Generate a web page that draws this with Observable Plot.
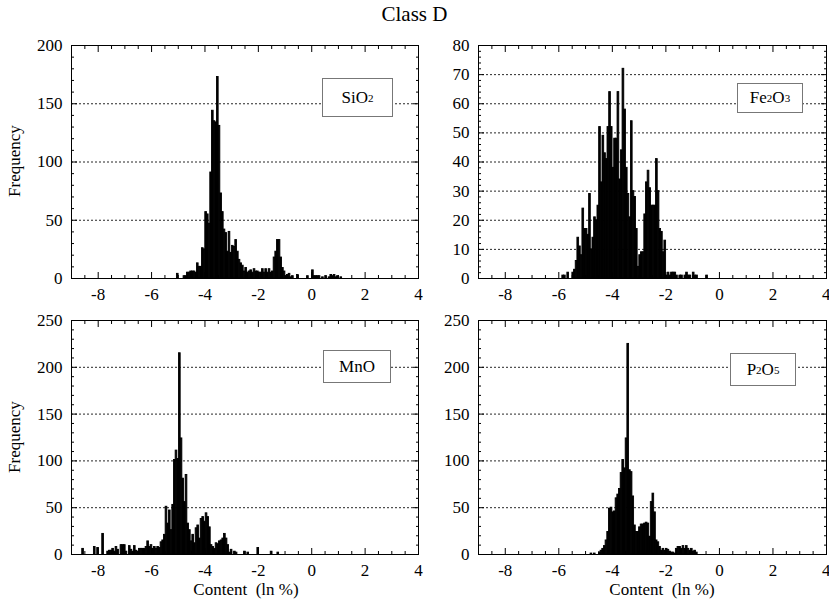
<!DOCTYPE html>
<html>
<head>
<meta charset="utf-8">
<script src="https://cdn.jsdelivr.net/npm/d3@7"></script>
<script src="https://cdn.jsdelivr.net/npm/@observablehq/plot@0.6"></script>
<style>
  html, body { margin: 0; padding: 0; background: #fff; }
  #chart { position: relative; width: 829px; height: 611px; font-family: "Liberation Serif", "Times New Roman", "DejaVu Serif", serif; color: #000; overflow: hidden; }
  #chart div, #chart svg, #chart svg text { font-family: "Liberation Serif", "Times New Roman", "DejaVu Serif", serif !important; }
  .abs { position: absolute; }
  .panel svg { overflow: visible; font-size: 17px !important; }
  .panel svg text { font-size: 17px !important; }
  .title { left: 0; width: 829px; top: 2px; text-align: center; font-size: 21px; }
  .ylab { font-size: 17px; transform: translate(-50%, -50%) rotate(-90deg); white-space: nowrap; }
  .xlab { font-size: 17px; transform: translate(-50%, -50%); white-space: pre; }
  .key { background: #fff; border: 1px solid #777; font-size: 17px; display: flex; align-items: center; justify-content: center; box-sizing: border-box; }
  .key sub { font-size: 11px; vertical-align: -4px; line-height: 0; }
</style>
</head>
<body>
<div id="chart"></div>
<script>
// ---------------- data (histogram counts, bin width in ln % units) ----------------
const binWidth = 0.0625;

const sio2Start = -5.05;
const sio2Counts = [4,0,0,0,2,2,5,5,6,6,6,5,13,10,10,26,25,57,55,47,91,144,135,134,173,131,73,57,42,39,23,40,22,28,27,33,23,16,13,11,6,9,5,6,7,5,8,6,6,5,5,8,5,8,5,8,5,6,18,23,33,33,18,9,6,2,3,4,1,2,0,0,3,0,0,0,0,0,2,0,0,7,2,2,2,2,0,1,0,2,0,1,3,2,3,1,2,0,1];

const fe2o3Start = -5.93;
const fe2o3Counts = [0,1,1,0,2,0,0,2,3,6,14,11,8,24,17,17,15,29,10,14,21,20,25,52,33,49,43,41,52,64,52,38,48,48,64,34,44,72,58,38,29,21,54,30,28,17,4,8,9,9,22,33,37,31,25,25,25,41,30,17,16,9,13,1,2,1,2,2,2,1,0,1,1,0,1,2,1,1,0,2,1,1,0,0,0,0,0,1];

const mnoStart = -8.66;
const mnoCounts = [0,6,0,0,0,0,0,0,8,0,7,0,0,22,0,0,3,4,4,6,3,8,5,0,10,10,10,3,0,9,5,3,9,4,3,6,6,6,6,8,14,8,10,6,8,6,8,7,13,15,21,51,33,47,26,53,101,111,102,215,124,81,56,85,33,26,14,21,12,28,31,17,38,40,35,44,40,29,10,8,6,12,11,14,15,17,22,17,10,2,5,0,3,2,0,0,0,0,3,0,2,0,0,0,0,0,7,0,0,0,0,0,0,0,3,0,0,0,2];

const p2o5Start = -4.813;
const p2o5Counts = [1,0,1,0,0,2,4,6,9,15,24,49,50,45,46,60,64,70,87,101,92,124,225,90,88,62,31,24,24,29,32,32,33,34,33,19,56,65,45,15,13,8,4,6,4,6,5,3,2,2,1,6,8,8,6,9,6,9,6,4,6,3,4,2];

const xDomain = [-9, 4];
const xMajorTicks = [-8, -6, -4, -2, 0, 2, 4];
const xMinorTicks = [-8.5, -7.5, -7, -6.5, -5.5, -5, -4.5, -3.5, -3, -2.5, -1.5, -1, -0.5, 0.5, 1, 1.5, 2.5, 3, 3.5];
const sio2YTicks = [0, 50, 100, 150, 200];
const fe2o3YTicks = [0, 10, 20, 30, 40, 50, 60, 70, 80];
const mnoYTicks = [0, 50, 100, 150, 200, 250];
const p2o5YTicks = [0, 50, 100, 150, 200, 250];

// ---------------- layout ----------------
const chart = document.getElementById("chart");
const fontFamily = '"Liberation Serif", "Times New Roman", "DejaVu Serif", serif';

const specs = [
  {start: sio2Start, counts: sio2Counts, yTicks: sio2YTicks, minorStep: 10, edge: false, left: 0, top: 25, width: 430, height: 290, mL: 71, mR: 12, mT: 20, mB: 37},
  {start: fe2o3Start, counts: fe2o3Counts, yTicks: fe2o3YTicks, minorStep: 2, edge: true, left: 420, top: 25, width: 409, height: 290, mL: 58, mR: 3, mT: 20, mB: 37},
  {start: mnoStart, counts: mnoCounts, yTicks: mnoYTicks, minorStep: 10, edge: false, left: 0, top: 300, width: 430, height: 290, mL: 71, mR: 12, mT: 20, mB: 36},
  {start: p2o5Start, counts: p2o5Counts, yTicks: p2o5YTicks, minorStep: 10, edge: true, left: 420, top: 300, width: 409, height: 290, mL: 58, mR: 3, mT: 20, mB: 36}
];

const blank = () => "";

function makePanel(s) {
  const bars = s.counts
    .map((n, i) => ({x1: s.start + i * binWidth, x2: s.start + (i + 1) * binWidth, n}))
    .filter(d => d.n > 0);
  const yMax = s.yTicks[s.yTicks.length - 1];
  const yMinor = d3.range(0, yMax + 1e-9, s.minorStep).filter(v => !s.yTicks.includes(v));
  const grid = s.yTicks.filter(v => v > 0 && v < yMax);
  const lastX = xMajorTicks[xMajorTicks.length - 1];
  const innerX = s.edge ? xMajorTicks.slice(0, -1) : xMajorTicks;
  const marks = [
    Plot.gridY(grid, {stroke: "#000", strokeOpacity: 0.85, strokeDasharray: "2,2", strokeWidth: 1}),
    Plot.rectY(bars, {x1: "x1", x2: "x2", y: "n", fill: "#000", stroke: "#000", strokeWidth: 0.9}),
    Plot.frame({stroke: "#000", strokeWidth: 1}),
    Plot.axisX(innerX, {anchor: "bottom", tickSize: -6, tickPadding: 15, tickFormat: d => String(d), label: null, fontFamily}),
    Plot.axisX(xMinorTicks, {anchor: "bottom", tickSize: -3, tickFormat: blank, label: null}),
    Plot.axisX(xMajorTicks, {anchor: "top", tickSize: -6, tickFormat: blank, label: null}),
    Plot.axisX(xMinorTicks, {anchor: "top", tickSize: -3, tickFormat: blank, label: null}),
    Plot.axisY(s.yTicks, {anchor: "left", tickSize: -6, tickPadding: 15, tickFormat: d => String(d), label: null, fontFamily}),
    Plot.axisY(yMinor, {anchor: "left", tickSize: -3, tickFormat: blank, label: null}),
    Plot.axisY(s.yTicks, {anchor: "right", tickSize: -6, tickFormat: blank, label: null}),
    Plot.axisY(yMinor, {anchor: "right", tickSize: -3, tickFormat: blank, label: null})
  ];
  if (s.edge) {
    marks.push(Plot.axisX([lastX], {anchor: "bottom", tickSize: -6, tickPadding: 15, tickFormat: d => String(d), label: null, fontFamily, textAnchor: "end", dx: 4}));
  }
  return Plot.plot({
    width: s.width,
    height: s.height,
    marginLeft: s.mL, marginRight: s.mR, marginTop: s.mT, marginBottom: s.mB,
    style: {fontFamily, fontSize: "17px", overflow: "visible", background: "transparent", color: "#000"},
    x: {domain: xDomain},
    y: {domain: [0, yMax]},
    marks
  });
}

specs.forEach(s => {
  const wrap = document.createElement("div");
  wrap.className = "abs panel";
  wrap.style.left = s.left + "px";
  wrap.style.top = s.top + "px";
  wrap.appendChild(makePanel(s));
  chart.appendChild(wrap);
});

function addText(cls, html, css) {
  const el = document.createElement("div");
  el.className = "abs " + cls;
  el.innerHTML = html;
  Object.assign(el.style, css);
  chart.appendChild(el);
}

addText("title", "Class D", {});
addText("ylab", "Frequency", {left: "15px", top: "161px"});
addText("ylab", "Frequency", {left: "15px", top: "437px"});
addText("xlab", "Content  (ln %)", {left: "246px", top: "590px"});
addText("xlab", "Content  (ln %)", {left: "662px", top: "590px"});

addText("key", "SiO<sub>2</sub>", {left: "322px", top: "78px", width: "71px", height: "39px"});
addText("key", "Fe<sub>2</sub>O<sub>3</sub>", {left: "737px", top: "83px", width: "66px", height: "30px"});
addText("key", "MnO", {left: "323px", top: "350px", width: "68px", height: "33px"});
addText("key", "P<sub>2</sub>O<sub>5</sub>", {left: "730px", top: "353px", width: "66px", height: "33px"});
</script>
</body>
</html>
